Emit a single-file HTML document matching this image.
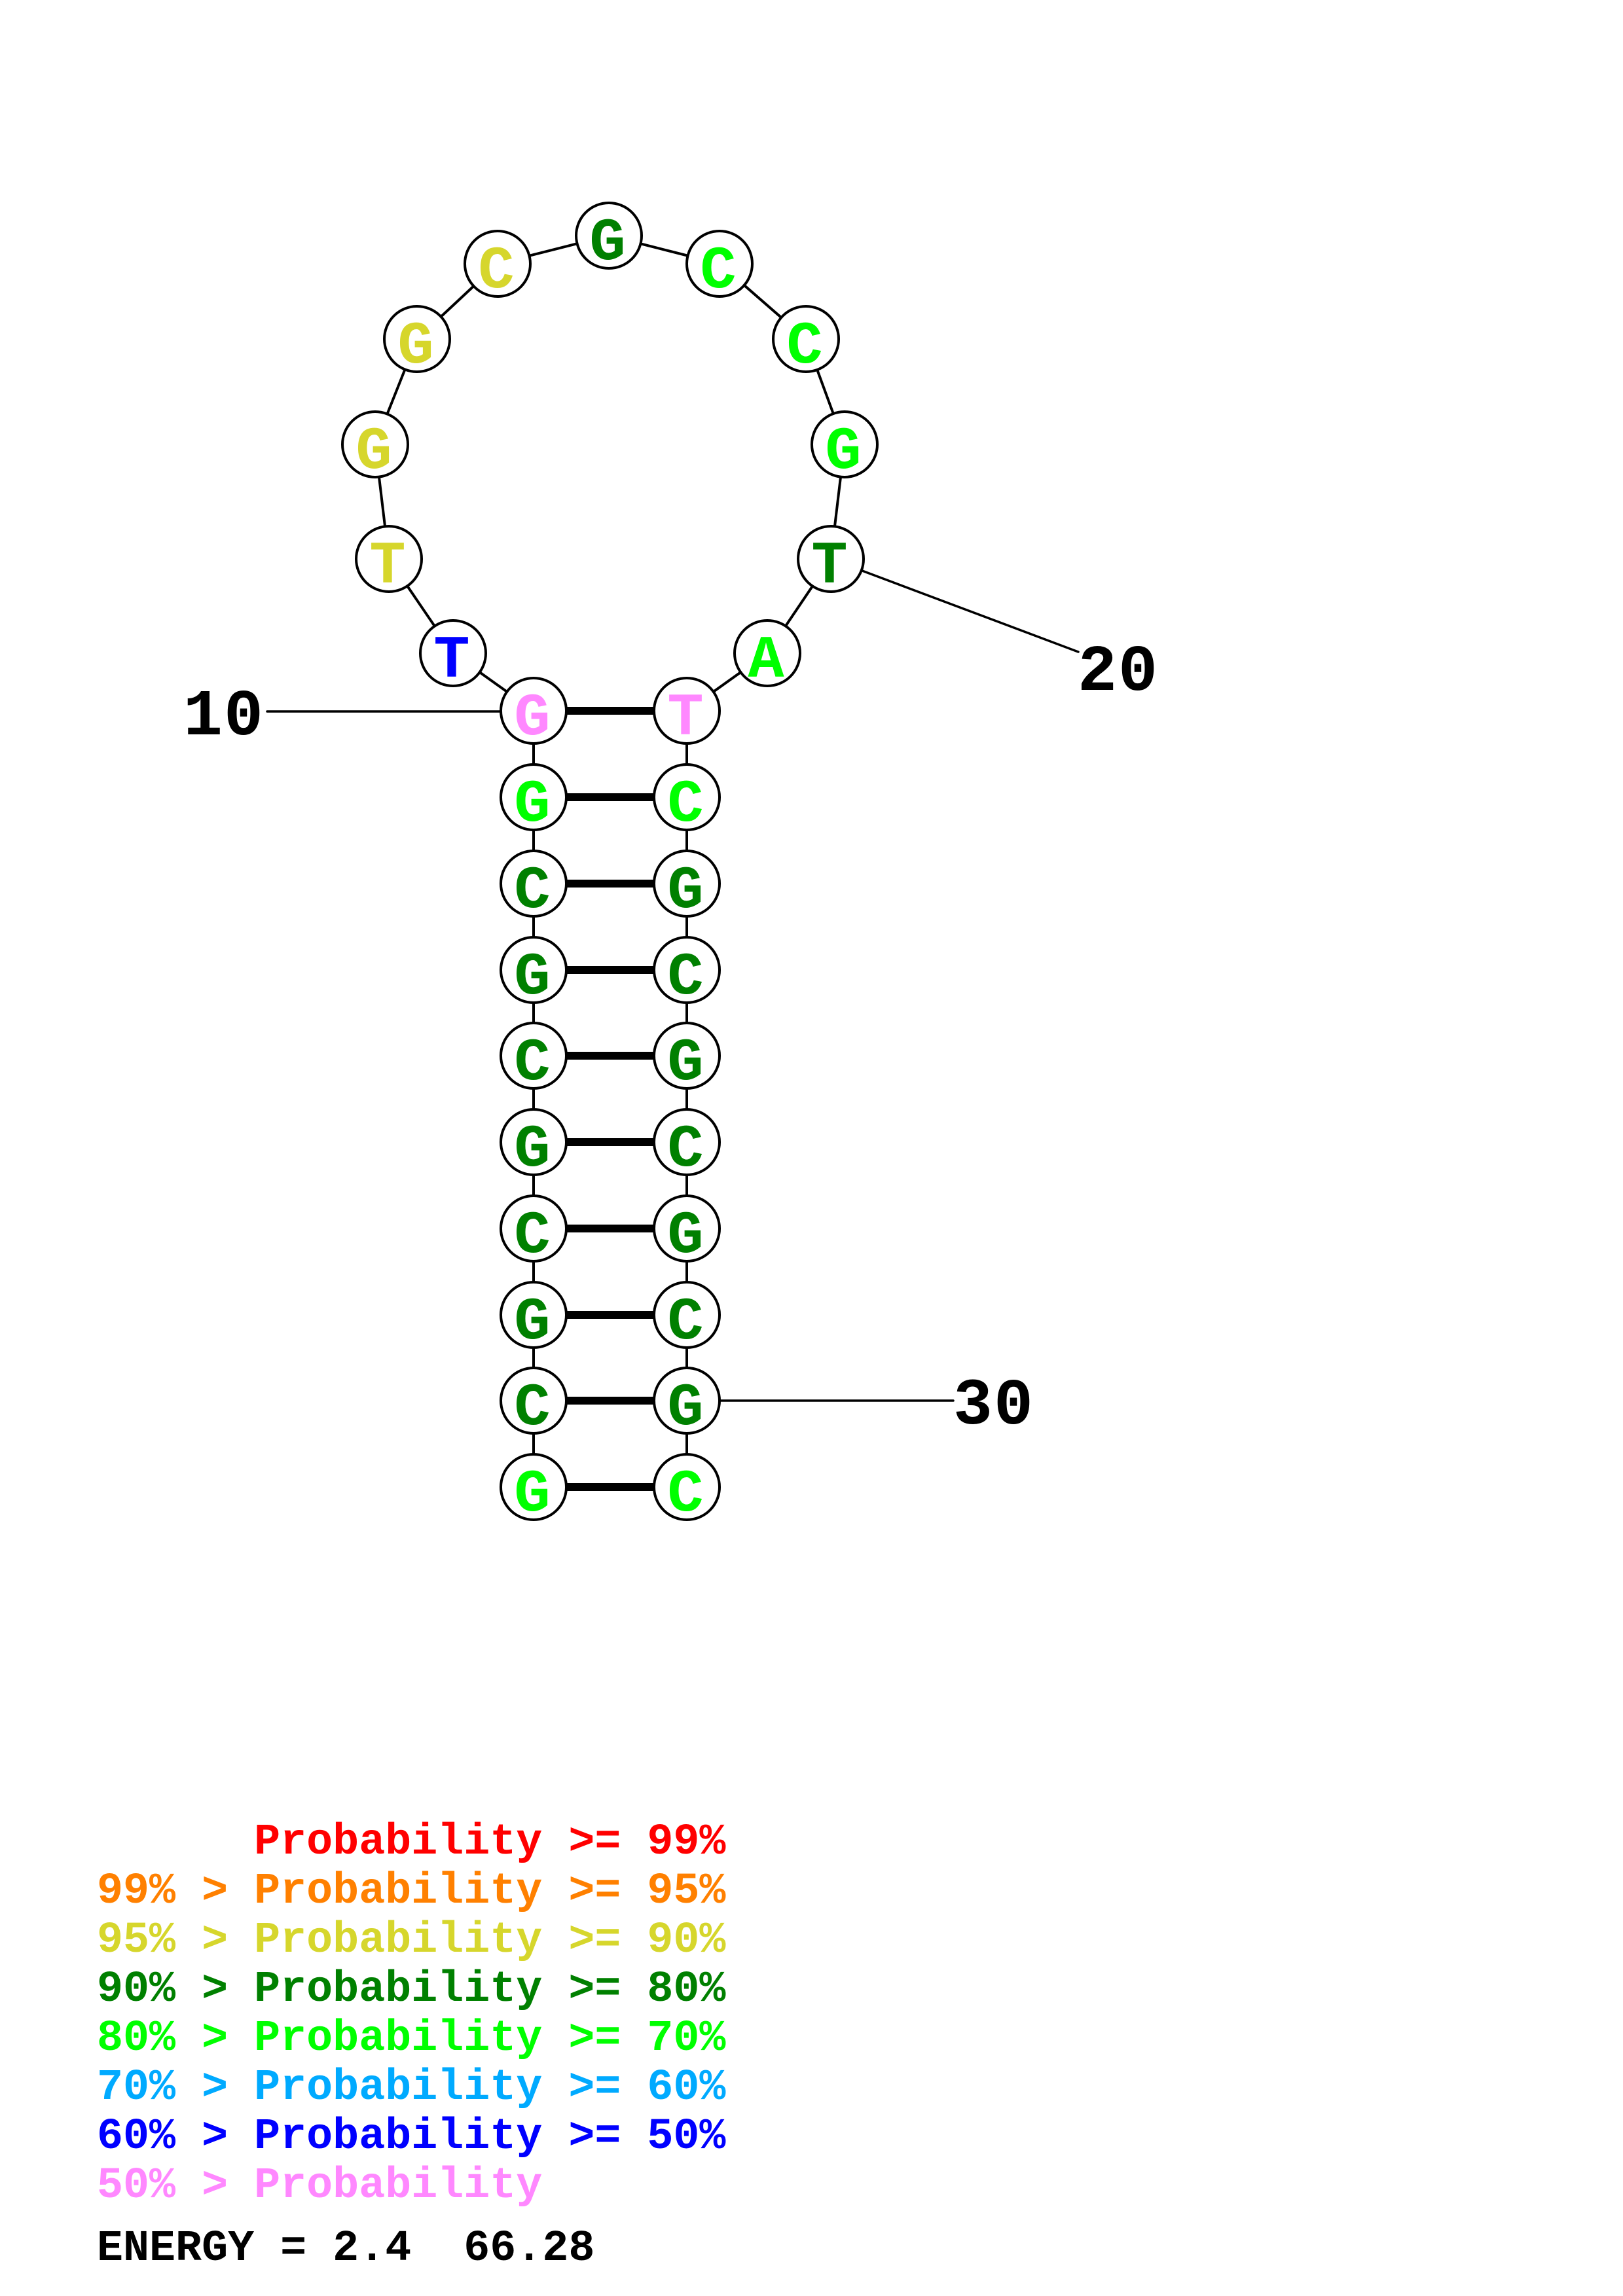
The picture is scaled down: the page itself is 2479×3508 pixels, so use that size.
<!DOCTYPE html>
<html>
<head>
<meta charset="utf-8">
<style>
html,body{margin:0;padding:0;background:#fff;}
svg{display:block;}
text{font-family:"Liberation Mono","DejaVu Sans Mono",monospace;font-weight:bold;white-space:pre;}
</style>
</head>
<body>
<svg width="2479" height="3508" viewBox="0 0 2479 3508" xmlns="http://www.w3.org/2000/svg">
<rect width="2479" height="3508" fill="#fff"/>
<g stroke="#000" stroke-width="4" fill="none" stroke-linecap="round">
  <!-- label lines -->
  <line x1="408" y1="1087" x2="815" y2="1087" stroke-width="3.5"/>
  <line x1="1269" y1="854" x2="1647" y2="996" stroke-width="3.5"/>
  <line x1="1049" y1="2140" x2="1456" y2="2140" stroke-width="3.5"/>
  <!-- stem backbones -->
  <line x1="815" y1="1086" x2="815" y2="2272"/>
  <line x1="1049" y1="1086" x2="1049" y2="2272"/>
  <!-- loop backbone -->
  <polyline points="815,1086 692,998 594,854 573,679 637,518 760,403 930,360 1099,403 1231,518 1290,679 1269,854 1172,998 1049,1086"/>
</g>
<!-- pair bars -->
<g stroke="#000" stroke-width="12">
  <line x1="815" y1="1086" x2="1049" y2="1086"/>
  <line x1="815" y1="1218" x2="1049" y2="1218"/>
  <line x1="815" y1="1350" x2="1049" y2="1350"/>
  <line x1="815" y1="1482" x2="1049" y2="1482"/>
  <line x1="815" y1="1613" x2="1049" y2="1613"/>
  <line x1="815" y1="1745" x2="1049" y2="1745"/>
  <line x1="815" y1="1877" x2="1049" y2="1877"/>
  <line x1="815" y1="2009" x2="1049" y2="2009"/>
  <line x1="815" y1="2140" x2="1049" y2="2140"/>
  <line x1="815" y1="2272" x2="1049" y2="2272"/>
</g>
<!-- circles -->
<g fill="#fff" stroke="#000" stroke-width="4">
  <circle cx="815" cy="1086" r="50"/><circle cx="1049" cy="1086" r="50"/>
  <circle cx="815" cy="1218" r="50"/><circle cx="1049" cy="1218" r="50"/>
  <circle cx="815" cy="1350" r="50"/><circle cx="1049" cy="1350" r="50"/>
  <circle cx="815" cy="1482" r="50"/><circle cx="1049" cy="1482" r="50"/>
  <circle cx="815" cy="1613" r="50"/><circle cx="1049" cy="1613" r="50"/>
  <circle cx="815" cy="1745" r="50"/><circle cx="1049" cy="1745" r="50"/>
  <circle cx="815" cy="1877" r="50"/><circle cx="1049" cy="1877" r="50"/>
  <circle cx="815" cy="2009" r="50"/><circle cx="1049" cy="2009" r="50"/>
  <circle cx="815" cy="2140" r="50"/><circle cx="1049" cy="2140" r="50"/>
  <circle cx="815" cy="2272" r="50"/><circle cx="1049" cy="2272" r="50"/>
  <circle cx="692" cy="998" r="50"/>
  <circle cx="594" cy="854" r="50"/>
  <circle cx="573" cy="679" r="50"/>
  <circle cx="637" cy="518" r="50"/>
  <circle cx="760" cy="403" r="50"/>
  <circle cx="930" cy="360" r="50"/>
  <circle cx="1099" cy="403" r="50"/>
  <circle cx="1231" cy="518" r="50"/>
  <circle cx="1290" cy="679" r="50"/>
  <circle cx="1269" cy="854" r="50"/>
  <circle cx="1172" cy="998" r="50"/>
</g>
<!-- nucleotide letters -->
<g font-size="92" text-anchor="middle">
  <text x="813" y="1122" fill="#ff88ff">G</text><text x="1047" y="1122" fill="#ff88ff">T</text>
  <text x="813" y="1254" fill="#00ff00">G</text><text x="1047" y="1254" fill="#00ff00">C</text>
  <text x="813" y="1386" fill="#008000">C</text><text x="1047" y="1386" fill="#008000">G</text>
  <text x="813" y="1518" fill="#008000">G</text><text x="1047" y="1518" fill="#008000">C</text>
  <text x="813" y="1649" fill="#008000">C</text><text x="1047" y="1649" fill="#008000">G</text>
  <text x="813" y="1781" fill="#008000">G</text><text x="1047" y="1781" fill="#008000">C</text>
  <text x="813" y="1913" fill="#008000">C</text><text x="1047" y="1913" fill="#008000">G</text>
  <text x="813" y="2045" fill="#008000">G</text><text x="1047" y="2045" fill="#008000">C</text>
  <text x="813" y="2176" fill="#008000">C</text><text x="1047" y="2176" fill="#008000">G</text>
  <text x="813" y="2308" fill="#00ff00">G</text><text x="1047" y="2308" fill="#00ff00">C</text>
  <text x="690" y="1034" fill="#0000ff">T</text>
  <text x="592" y="890" fill="#d6d62c">T</text>
  <text x="571" y="715" fill="#d6d62c">G</text>
  <text x="635" y="554" fill="#d6d62c">G</text>
  <text x="758" y="439" fill="#d6d62c">C</text>
  <text x="928" y="396" fill="#008000">G</text>
  <text x="1097" y="439" fill="#00ff00">C</text>
  <text x="1229" y="554" fill="#00ff00">C</text>
  <text x="1288" y="715" fill="#00ff00">G</text>
  <text x="1267" y="890" fill="#008000">T</text>
  <text x="1170" y="1034" fill="#00ff00">A</text>
</g>
<!-- position labels -->
<g font-size="100" fill="#000" letter-spacing="2">
  <text x="280" y="1122">10</text>
  <text x="1646" y="1054">20</text>
  <text x="1456" y="2175">30</text>
</g>
<!-- legend -->
<g font-size="66.7">
  <text x="148" y="2832" fill="#ff0000">      Probability &gt;= 99%</text>
  <text x="148" y="2907" fill="#ff8000">99% &gt; Probability &gt;= 95%</text>
  <text x="148" y="2982" fill="#d6d62c">95% &gt; Probability &gt;= 90%</text>
  <text x="148" y="3057" fill="#008000">90% &gt; Probability &gt;= 80%</text>
  <text x="148" y="3132" fill="#00ff00">80% &gt; Probability &gt;= 70%</text>
  <text x="148" y="3207" fill="#00aaff">70% &gt; Probability &gt;= 60%</text>
  <text x="148" y="3282" fill="#0000ff">60% &gt; Probability &gt;= 50%</text>
  <text x="148" y="3357" fill="#ff88ff">50% &gt; Probability</text>
  <text x="148" y="3453" fill="#000">ENERGY = 2.4  66.28</text>
</g>
</svg>
</body>
</html>
